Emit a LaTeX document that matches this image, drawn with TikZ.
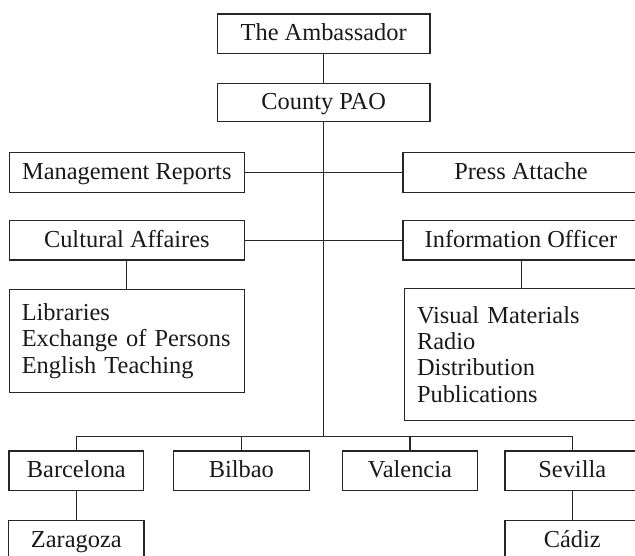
\documentclass[tikz,border=0pt]{standalone}
\usepackage{fontspec}
\setmainfont{Liberation Serif}
\begin{document}
\begin{tikzpicture}[x=1pt,y=-1pt,
  every node/.style={font=\fontsize{24.4}{26.3}\selectfont, text=black!90},
  box/.style={draw=black!85, line width=1.35pt, inner sep=0pt, minimum height=39.5pt, text height=15pt, text depth=1pt},
  listbox/.style={draw=black!85, line width=1.35pt, inner xsep=12.5pt, inner ysep=0pt, align=left},
  conn/.style={draw=black!85, line width=1.35pt}]
\useasboundingbox (0,0) rectangle (635,556);
\clip (0,0) rectangle (635,556);
% top
\node[box, minimum width=212.7pt] (amb) at (323.65,33.65) {The Ambassador};
\node[box, minimum width=212.7pt, minimum height=38.4pt] (pao) at (323.65,102.5) {County PAO};
% second level
\node[box, minimum width=235pt] (mgmt) at (126.8,172.5) {Management Reports};
\node[box, minimum width=236pt] (press) at (521,172.5) {Press Attache};
\node[box, minimum width=235pt] (cult) at (126.8,240.35) {Cultural Affaires};
\node[box, minimum width=236pt] (info) at (521,240.35) {Information Officer};
% lists
\node[listbox, text width=210pt, minimum width=235pt, minimum height=103.4pt] (lib) at (126.8,341) {Libraries\\Exchange of Persons\\English Teaching};
\node[listbox, text width=209.5pt, minimum width=234.5pt, minimum height=132.4pt] (vis) at (521.75,354.5) {Visual Materials\\Radio\\Distribution\\Publications};
% posts
\node[box, minimum width=134.7pt] (bar) at (76.35,470.85) {Barcelona};
\node[box, minimum width=136pt] (bil) at (241.3,470.85) {Bilbao};
\node[box, minimum width=135.2pt] (val) at (409.9,470.85) {Valencia};
\node[box, minimum width=134.5pt] (sev) at (572.25,470.85) {Sevilla};
\node[box, minimum width=135.5pt] (zar) at (76.35,540.3) {Zaragoza};
\node[box, minimum width=134.5pt] (cad) at (572.25,540.3) {Cádiz};
\coordinate (bus) at (323.65,436.3);
% connectors
\draw[conn] (amb) -- (pao);
\draw[conn] (pao.south) -- (bus);
\draw[conn] (mgmt.east) -- (press.west);
\draw[conn] (cult.east) -- (info.west);
\draw[conn] (cult.south) -- (cult.south |- lib.north);
\draw[conn] (info.south -| vis.north) -- (vis.north);
\draw[conn] (bar.north) |- (bus) -| (sev.north);
\draw[conn] (bil.north) -- (bil.north |- bus);
\draw[conn] (val.north) -- (val.north |- bus);
\draw[conn] (bar.south) -- (zar.north);
\draw[conn] (sev.south) -- (cad.north);
\end{tikzpicture}
\end{document}
